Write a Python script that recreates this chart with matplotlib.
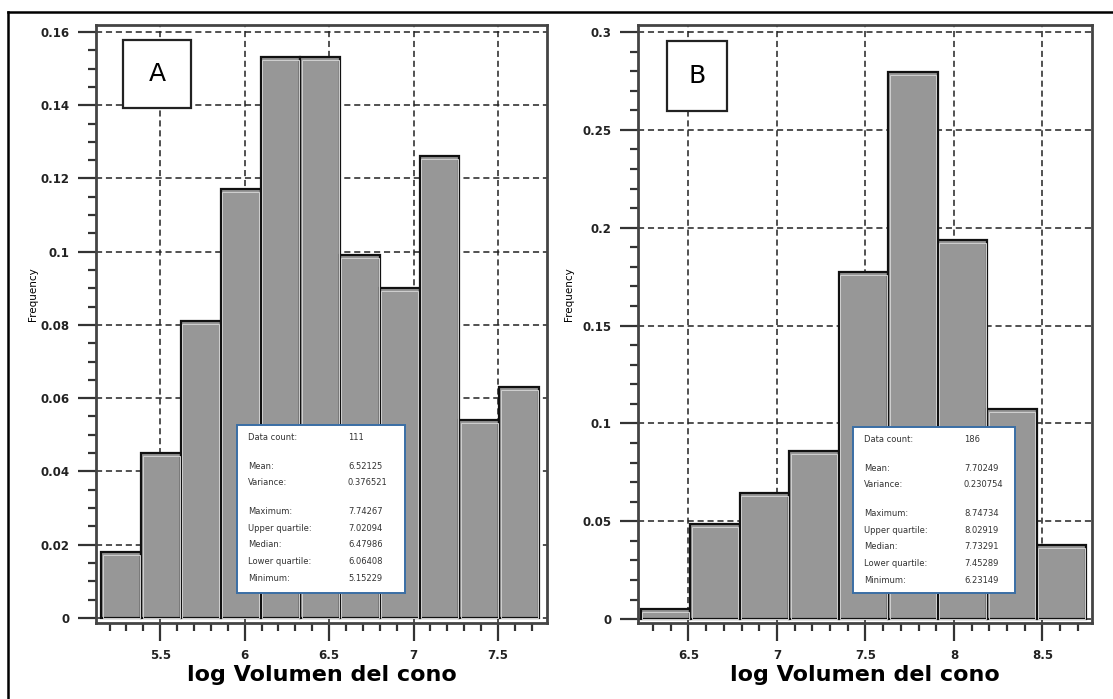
import numpy as np
import matplotlib
matplotlib.use("Agg")
import matplotlib.pyplot as plt
from matplotlib.lines import Line2D
from matplotlib.patches import Rectangle
from matplotlib.ticker import MultipleLocator, FuncFormatter

### Data ###
# Panel A: 111 cones, 11 bins between min and max
counts_a = [2, 5, 9, 13, 17, 17, 11, 10, 14, 6, 7]
n_a = 111
min_a, max_a = 5.15229, 7.74267
stats_a = ["111", "6.52125", "0.376521", "7.74267", "7.02094", "6.47986", "6.06408", "5.15229"]

# Panel B: 186 cones, 9 bins
counts_b = [1, 9, 12, 16, 33, 52, 36, 20, 7]
n_b = 186
min_b, max_b = 6.23149, 8.74734
stats_b = ["186", "7.70249", "0.230754", "8.74734", "8.02919", "7.73291", "7.45289", "6.23149"]

stat_names = ["Data count:", "Mean:", "Variance:", "Maximum:", "Upper quartile:",
              "Median:", "Lower quartile:", "Minimum:"]
stat_rows = [0, 1.75, 2.75, 4.5, 5.5, 6.5, 7.5, 8.5]

W, H = 1113, 699
fig = plt.figure(figsize=(W / 100, H / 100), dpi=100)


def fx(px):
    return px / W


def fy(py):
    return 1 - py / H


def tick_fmt(v, pos):
    s = f"{v:.2f}".rstrip("0").rstrip(".")
    return s


def panel(rect, counts, n, vmin, vmax, xlim, ylim, ymaj, ymin_, letter, letter_box,
          stats, stat_box, ylab_x):
    left, top, right, bottom = rect
    ax = fig.add_axes([fx(left), fy(bottom), fx(right - left), fy(top) - fy(bottom)])
    edges = np.linspace(vmin, vmax, len(counts) + 1)
    freq = np.array(counts) / n
    ax.bar(edges[:-1], freq, width=np.diff(edges), align="edge",
           color="#979797", edgecolor="#111111", linewidth=1.6, zorder=3)
    ax.bar(edges[:-1] + 0.008, freq - 0.0008 * (ylim[1] / 0.16), width=np.diff(edges) - 0.016,
           align="edge", facecolor="none", edgecolor="#d0d0d0", linewidth=0.7, zorder=3)
    ax.set_xlim(*xlim)
    ax.set_ylim(*ylim)
    ax.xaxis.set_major_locator(MultipleLocator(0.5))
    ax.xaxis.set_minor_locator(MultipleLocator(0.1))
    ax.yaxis.set_major_locator(MultipleLocator(ymaj))
    ax.yaxis.set_minor_locator(MultipleLocator(ymin_))
    ax.xaxis.set_major_formatter(FuncFormatter(tick_fmt))
    ax.yaxis.set_major_formatter(FuncFormatter(tick_fmt))
    ax.grid(True, which="major", color="#222222", linestyle=(0, (4, 2.5)), linewidth=1.1, zorder=0)
    ax.set_axisbelow(True)
    ax.tick_params(which="major", direction="out", length=13, width=1.6, color="#333333",
                   labelsize=8.5, pad=6)
    ax.tick_params(which="minor", direction="out", length=6, width=1.6, color="#333333")
    for lab in ax.get_xticklabels() + ax.get_yticklabels():
        lab.set_fontweight("bold")
        lab.set_color("#222222")
    for sp in ax.spines.values():
        sp.set_color("#444444")
        sp.set_linewidth(2.0)
    ax.set_ylabel("Frequency", fontsize=7.5)
    ax.yaxis.set_label_coords(ylab_x, 0.55)
    ax.set_xlabel("log Volumen del cono", fontsize=16, fontweight="bold", labelpad=2)

    # letter box
    lx0, ly0, lx1, ly1 = letter_box
    fig.add_artist(Rectangle((fx(lx0), fy(ly1)), fx(lx1 - lx0), fy(ly0) - fy(ly1),
                             transform=fig.transFigure, facecolor="white",
                             edgecolor="#222222", linewidth=1.6, zorder=5))
    fig.text(fx((lx0 + lx1) / 2), fy((ly0 + ly1) / 2), letter, fontsize=18,
             ha="center", va="center", zorder=6)

    # statistics box
    sx0, sy0, sx1, sy1 = stat_box
    fig.add_artist(Rectangle((fx(sx0), fy(sy1)), fx(sx1 - sx0), fy(sy0) - fy(sy1),
                             transform=fig.transFigure, facecolor="white",
                             edgecolor="#3a6ea5", linewidth=1.4, zorder=5))
    for name, val, r in zip(stat_names, stats, stat_rows):
        yy = sy0 + 12 + r * 16.6
        fig.text(fx(sx0 + 11), fy(yy), name, fontsize=6, va="center", ha="left",
                 color="#333333", zorder=6)
        fig.text(fx(sx0 + 111), fy(yy), val, fontsize=6, va="center", ha="left",
                 color="#333333", zorder=6)
    return ax


panel((96, 25, 547, 623), counts_a, n_a, min_a, max_a, (5.12, 7.79), (-0.0014, 0.1619),
      0.02, 0.005, "A", (123, 40, 191, 108), stats_a, (237, 425, 405, 593), -0.128)
panel((638, 25, 1092, 623), counts_b, n_b, min_b, max_b, (6.215, 8.78), (-0.002, 0.3036),
      0.05, 0.01, "B", (667, 41, 727, 111), stats_b, (853, 427, 1015, 593), -0.14)

# outer frame (left and top edges visible)
fig.add_artist(Line2D([fx(8), fx(8)], [fy(12), 0], transform=fig.transFigure,
                      color="black", linewidth=1.8))
fig.add_artist(Line2D([fx(8), 1], [fy(12), fy(12)], transform=fig.transFigure,
                      color="black", linewidth=1.8))

fig.savefig("out.png", dpi=100)
